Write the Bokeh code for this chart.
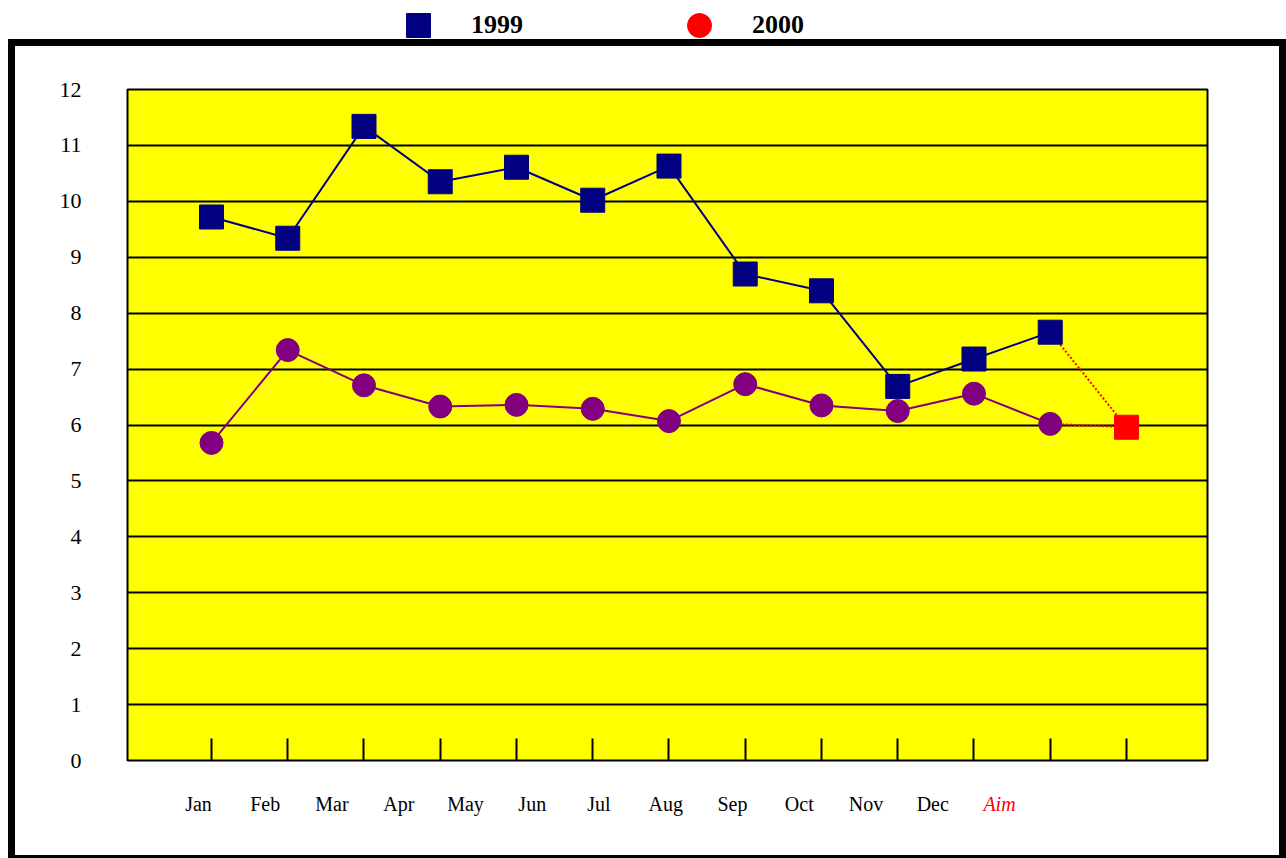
from bokeh.plotting import figure
from bokeh.layouts import column
from bokeh.models import (LinearAxis, FixedTicker, Range1d, Grid, Legend, LegendItem)
from bokeh.embed import file_html
from bokeh.resources import INLINE

# ---- data ----
categories = ["Jan", "Feb", "Mar", "Apr", "May", "Jun", "Jul", "Aug", "Sep", "Oct", "Nov", "Dec", "Aim"]
values_1999 = [9.72, 9.34, 11.34, 10.35, 10.61, 10.02, 10.63, 8.70, 8.40, 6.69, 7.18, 7.66]
values_2000 = [5.68, 7.34, 6.71, 6.33, 6.36, 6.29, 6.07, 6.73, 6.35, 6.25, 6.56, 6.02]
aim_value = [5.96]
y_ticks = list(range(13))
series_names = ["1999", "2000"]

idx = list(range(len(values_1999)))
aim_idx = len(categories) - 1
NAN = float("nan")

FONT = "Liberation Serif"
NAVY = "#000080"
PURPLE = "#800080"
RED = "#FF0000"

# ---------------- legend strip (above the framed chart) ----------------
lg = figure(width=1286, height=39, x_range=Range1d(0, 1), y_range=Range1d(0, 1),
            x_axis_type=None, y_axis_type=None, output_backend="svg",
            toolbar_location=None, min_border=0, outline_line_color=None,
            background_fill_color="white", border_fill_color="white")
lg_sq = lg.scatter(x=[NAN], y=[NAN], marker="square", size=24, color=NAVY)
lg_ci = lg.scatter(x=[NAN], y=[NAN], marker="circle", size=24, color=RED)
legend = Legend(items=[LegendItem(label=series_names[0], renderers=[lg_sq]),
                       LegendItem(label=series_names[1], renderers=[lg_ci])],
                location=(276, -16), orientation="horizontal",
                glyph_width=60, glyph_height=60, label_standoff=23, spacing=146,
                label_width=51, padding=0, margin=0, border_line_color=None,
                background_fill_alpha=0, label_text_font=FONT,
                label_text_font_style="bold", label_text_font_size="26px",
                label_text_color="black")
lg.add_layout(legend)

# ---------------- main chart (framed by a thick black border) ----------------
p = figure(width=1278, height=819,
           x_range=Range1d(-1.1016, 13.0623), y_range=Range1d(0, 12),
           x_axis_type=None, y_axis_type=None,
           output_backend="svg", toolbar_location=None,
           min_border_left=112, min_border_right=86, min_border_top=43, min_border_bottom=105,
           background_fill_color="#FFFF00", border_fill_color="white",
           outline_line_color="black", outline_line_width=2)
p.styles = {"border": "7px solid black", "border-bottom-width": "3px",
            "margin-left": "8px", "overflow": "hidden"}
p.extra_x_ranges = {"lab": Range1d(-1.0637, 15.116)}

p.add_layout(Grid(dimension=1, ticker=FixedTicker(ticks=y_ticks[1:-1]),
                  grid_line_color="black", grid_line_width=2))

yaxis = LinearAxis(ticker=FixedTicker(ticks=y_ticks), axis_line_color=None,
                   major_tick_line_color=None, minor_tick_line_color=None,
                   major_label_standoff=40, major_label_text_font=FONT,
                   major_label_text_font_size="22px", major_label_text_color="black")
p.add_layout(yaxis, "left")

xticks_axis = LinearAxis(ticker=FixedTicker(ticks=list(range(len(categories)))),
                         axis_line_color=None, major_tick_in=22, major_tick_out=0,
                         major_tick_line_color="black", major_tick_line_width=2,
                         minor_tick_line_color=None,
                         major_label_overrides={i: "" for i in range(len(categories))},
                         major_label_text_font_size="0px", major_label_standoff=0)
p.add_layout(xticks_axis, "below")

xlabels_axis = LinearAxis(x_range_name="lab",
                          ticker=FixedTicker(ticks=list(range(len(categories) - 1))),
                          major_label_overrides={i: c for i, c in enumerate(categories[:-1])},
                          axis_line_color=None, major_tick_line_color=None,
                          minor_tick_line_color=None, major_label_standoff=26,
                          major_label_text_font=FONT, major_label_text_font_size="20px",
                          major_label_text_color="black")
p.add_layout(xlabels_axis, "below")

aim_axis = LinearAxis(x_range_name="lab", ticker=FixedTicker(ticks=[aim_idx]),
                      major_label_overrides={aim_idx: categories[-1]},
                      axis_line_color=None, major_tick_line_color=None,
                      minor_tick_line_color=None, major_label_standoff=-31,
                      major_label_text_font=FONT, major_label_text_font_size="20px",
                      major_label_text_font_style="italic", major_label_text_color=RED)
p.add_layout(aim_axis, "below")

# lines
p.line(idx, values_1999, line_color=NAVY, line_width=2)
p.line(idx, values_2000, line_color=PURPLE, line_width=2)
p.line([idx[-1], aim_idx], [values_1999[-1], aim_value[0]], line_color=RED,
       line_width=2, line_dash="2 2")
p.line([idx[-1], aim_idx], [values_2000[-1], aim_value[0]], line_color=RED,
       line_width=2, line_dash="2 2")

# markers
p.scatter(idx, values_1999, marker="square", size=24, color=NAVY)
p.scatter(idx, values_2000, marker="circle", size=23, color=PURPLE)
p.scatter([aim_idx], aim_value, marker="square", size=24, color=RED)

layout = column(lg, p, spacing=0)
open("out.html", "w").write(file_html(layout, INLINE))
